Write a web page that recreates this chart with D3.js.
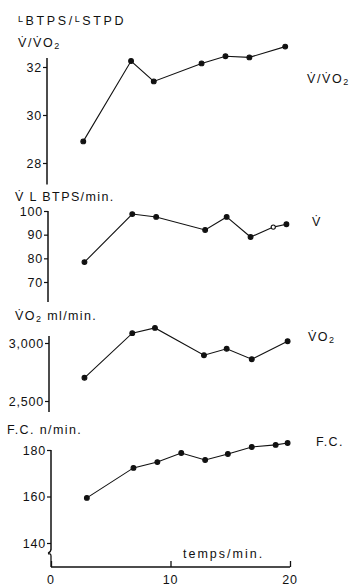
<!DOCTYPE html>
<html>
<head>
<meta charset="utf-8">
<script src="https://cdn.jsdelivr.net/npm/d3@7"></script>
<style>
  html, body { margin: 0; padding: 0; background: #fff; }
  svg { display: block; }
  text { font-family: "Liberation Sans", "DejaVu Sans", sans-serif; fill: #111; }
  .lbl { font-size: 12.5px; letter-spacing: 1.4px; }
</style>
</head>
<body>
<svg id="chart" width="352" height="586"></svg>
<script>
// Ventilatory equivalent, L BTPS / L STPD
const ratioTimes  = [2.7, 6.7, 8.6, 12.6, 14.6, 16.6, 19.6];
const ratioValues = [28.9, 32.25, 31.4, 32.15, 32.45, 32.4, 32.85];
const ratioTicks  = [28, 30, 32];

// Ventilation, L BTPS/min
const ventTimes  = [2.8, 6.8, 8.8, 12.9, 14.7, 16.7, 18.6, 19.7];
const ventValues = [78.4, 98.7, 97.5, 92.0, 97.5, 89.0, 93.2, 94.4];
const ventOpen   = [false, false, false, false, false, false, true, false];
const ventTicks  = [70, 80, 90, 100];

// Oxygen uptake, ml/min
const vo2Times  = [2.8, 6.8, 8.7, 12.8, 14.7, 16.8, 19.8];
const vo2Values = [2700, 3085, 3130, 2895, 2950, 2860, 3015];
const vo2Ticks  = [2500, 3000];

// Heart rate, beats/min
const hrTimes  = [3.0, 6.9, 8.9, 10.9, 12.9, 14.8, 16.8, 18.8, 19.8];
const hrValues = [159.4, 172.3, 174.8, 178.7, 175.7, 178.3, 181.3, 182.2, 183.0];
const hrTicks  = [140, 160, 180];

// Time axis
const timeTicks = [0, 10, 20];

const svg = d3.select("#chart");
const x = d3.scaleLinear().domain([0, 20]).range([51, 290]);

const fmtComma = d3.format(",");

const panels = [
  { times: ratioTimes, values: ratioValues, ticks: ratioTicks,
    domain: [28, 32], range: [163, 67], axisX: 47, span: [27.1, 32.38], fmt: d => d },
  { times: ventTimes, values: ventValues, ticks: ventTicks, open: ventOpen,
    domain: [70, 100], range: [282, 211], axisX: 48, span: [61.5, 100], fmt: d => d },
  { times: vo2Times, values: vo2Values, ticks: vo2Ticks,
    domain: [2500, 3000], range: [401, 343], axisX: 49, span: [2405, 3060], fmt: fmtComma },
  { times: hrTimes, values: hrValues, ticks: hrTicks,
    domain: [140, 180], range: [543, 450], axisX: 51, span: [137.2, 180], fmt: d => d }
];

panels.forEach(p => {
  const y = d3.scaleLinear().domain(p.domain).range(p.range);
  const g = svg.append("g").attr("transform", `translate(${p.axisX},0)`);
  g.call(d3.axisLeft(y).tickValues(p.ticks).tickSize(4).tickPadding(1).tickFormat(p.fmt))
    .call(a => a.select(".domain").remove())
    .call(a => a.selectAll("line").attr("stroke", "#111").attr("stroke-width", 1.2))
    .call(a => a.selectAll("text").style("font-size", "12.5px").style("letter-spacing", "0.8px")
      .style("font-family", '"Liberation Sans", "DejaVu Sans", sans-serif').attr("fill", "#111"));
  g.append("line")
    .attr("x1", 0).attr("x2", 0)
    .attr("y1", y(p.span[0])).attr("y2", y(p.span[1]))
    .attr("stroke", "#111").attr("stroke-width", 1.5);

  const pts = p.times.map((t, i) => [x(t), y(p.values[i])]);
  svg.append("path")
    .attr("d", d3.line()(pts))
    .attr("fill", "none").attr("stroke", "#111").attr("stroke-width", 1.1);
  svg.append("g").selectAll("circle").data(pts).join("circle")
    .attr("cx", d => d[0]).attr("cy", d => d[1])
    .attr("r", (d, i) => p.open && p.open[i] ? 2.1 : 2.4)
    .attr("fill", (d, i) => p.open && p.open[i] ? "#fff" : "#111")
    .attr("stroke", "#111").attr("stroke-width", 1.1);
});

// Time axis with ticks pointing upward
const xAxisY = 567;
const xg = svg.append("g").attr("transform", `translate(0,${xAxisY})`);
xg.call(d3.axisTop(x).tickValues(timeTicks).tickSize(6).tickFormat(""))
  .call(a => a.select(".domain").remove())
  .call(a => a.selectAll("line").attr("stroke", "#111").attr("stroke-width", 1.3));
xg.append("line").attr("x1", x(0)).attr("x2", x(20)).attr("y1", 0).attr("y2", 0)
  .attr("stroke", "#111").attr("stroke-width", 1.5);
svg.append("g").selectAll("text").data(timeTicks).join("text")
  .attr("x", d => x(d)).attr("y", 584)
  .attr("text-anchor", "middle").style("font-size", "12.5px").style("letter-spacing", "0.8px")
  .text(d => d);

// Axis break between heart-rate scale and time axis
svg.append("path")
  .attr("d", "M51,549 q0,3 -3,4 M51,556 q0,-3 -3,-2 M51,556 L51,567")
  .attr("fill", "none").attr("stroke", "#111").attr("stroke-width", 1.3);

svg.append("text").attr("class", "lbl").attr("x", 183).attr("y", 558)
  .style("letter-spacing", "2px").text("temps/min.");

// Left-hand titles
const t1 = svg.append("text").attr("x", 18).attr("y", 25)
  .style("font-size", "12.5px").style("letter-spacing", "2.6px");
t1.append("tspan").style("font-size", "9px").attr("dy", -3).text("L");
t1.append("tspan").attr("dy", 3).text("BTPS/");
t1.append("tspan").style("font-size", "9px").attr("dy", -3).text("L");
t1.append("tspan").attr("dy", 3).text("STPD");

function vdotO2(sel, prefix, suffix) {
  sel.append("tspan").text(prefix + "V\u0307O");
  sel.append("tspan").style("font-size", "9px").attr("dy", 2).text("2");
  if (suffix) sel.append("tspan").attr("dy", -2).text(suffix);
}

const t2 = svg.append("text").attr("class", "lbl").attr("x", 18).attr("y", 47)
  .style("letter-spacing", "1.6px");
vdotO2(t2, "V\u0307/", "");

svg.append("text").attr("class", "lbl").attr("x", 15).attr("y", 201)
  .text("V\u0307 L BTPS/min.");

const t3 = svg.append("text").attr("class", "lbl").attr("x", 15).attr("y", 320);
vdotO2(t3, "", " ml/min.");

svg.append("text").attr("class", "lbl").attr("x", 7).attr("y", 434)
  .text("F.C. n/min.");

// Right-hand series labels
const r1 = svg.append("text").attr("class", "lbl").attr("x", 307).attr("y", 83)
  .style("letter-spacing", "1.6px");
vdotO2(r1, "V\u0307/", "");
svg.append("text").attr("class", "lbl").attr("x", 312).attr("y", 226).text("V\u0307");
const r3 = svg.append("text").attr("class", "lbl").attr("x", 308).attr("y", 341);
vdotO2(r3, "", "");
svg.append("text").attr("class", "lbl").attr("x", 316).attr("y", 446).text("F.C.");
</script>
</body>
</html>
